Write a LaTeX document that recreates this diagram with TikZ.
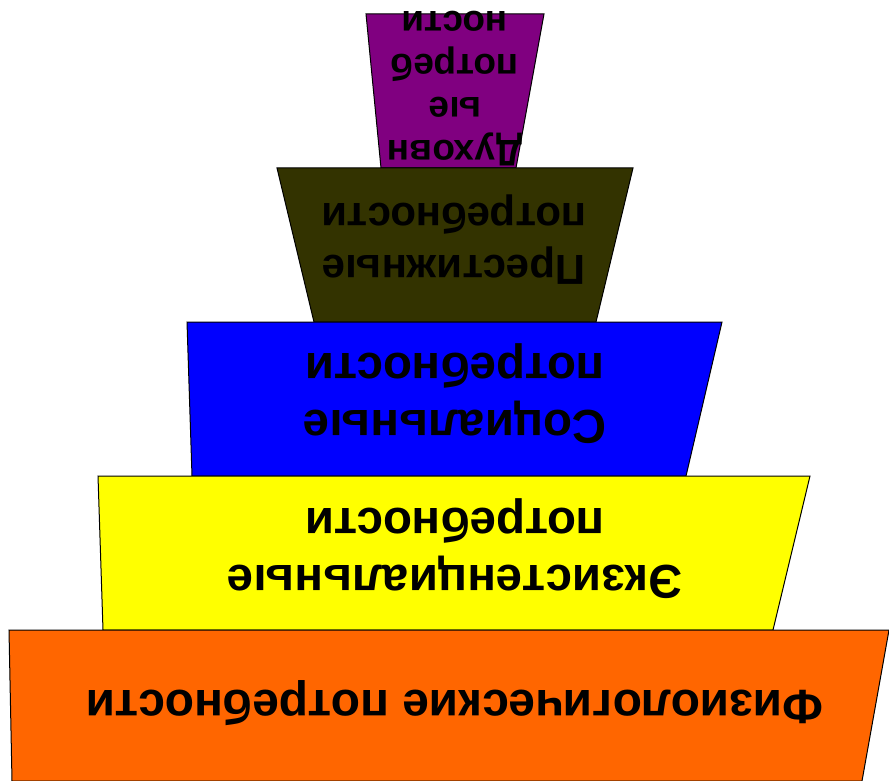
\documentclass[tikz,border=0pt]{standalone}
\usepackage{fontspec}
\setmainfont{Liberation Sans}
\begin{document}
\begin{tikzpicture}[x=1pt,y=-1pt,
  tier/.style={draw=black,line width=1pt,line join=miter},
  lbl/.style={rotate=180,align=center,font=\bfseries,text=black,inner sep=0pt}]
\useasboundingbox (0,0) rectangle (889,781);
% tiers
\fill[tier,fill={rgb,255:red,128;green,0;blue,128}] (366,14) -- (544,14) -- (516,168) -- (381,168) -- cycle;
\fill[tier,fill={rgb,255:red,51;green,51;blue,0}] (277,168) -- (633,168) -- (596,322) -- (314,322) -- cycle;
\fill[tier,fill={rgb,255:red,0;green,0;blue,255}] (187,322) -- (722,322) -- (686,476) -- (192,476) -- cycle;
\fill[tier,fill={rgb,255:red,255;green,255;blue,0}] (98,476) -- (810,476) -- (773,630) -- (103,630) -- cycle;
\fill[tier,fill={rgb,255:red,255;green,102;blue,0}] (9,630) -- (889,630) -- (862,781) -- (12,781) -- cycle;
% labels
\node[lbl,font=\bfseries\fontsize{37}{43}\selectfont] (t5) at (455,89) {Духовн\\ые\\потреб\\ности};
\node[lbl,font=\bfseries\fontsize{42}{52}\selectfont] (t4) at (454,240) {Престижные\\потребности};
\node[lbl,font=\bfseries\fontsize{47.5}{57}\selectfont] (t3) at (455,394) {Социальные\\потребности};
\node[lbl,font=\bfseries\fontsize{47.5}{57}\selectfont] (t2) at (455,549) {Экзистенциальные\\потребности};
\node[lbl,font=\bfseries\fontsize{48}{57}\selectfont] (t1) at (455,703) {Физиологические потребности};
\end{tikzpicture}
\end{document}
